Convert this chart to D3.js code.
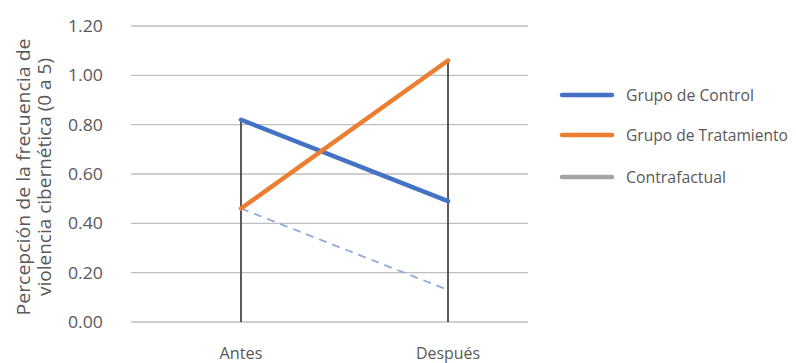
<!DOCTYPE html>
<html lang="es">
<head>
<meta charset="utf-8">
<script src="https://cdn.jsdelivr.net/npm/d3@7"></script>
<style>
  html, body { margin: 0; padding: 0; background: #fff; }
  svg { display: block; font-family: "Open Sans", "Liberation Sans", sans-serif; }
</style>
</head>
<body>
<svg id="chart" width="796" height="363"></svg>
<script>
// Categorías del eje X
const categories = ["Antes", "Después"];
// Series
const control = [0.82, 0.49];
const tratamiento = [0.46, 1.06];
const contrafactual = [0.46, 0.13];
// Marcas del eje Y
const yTicks = [0.00, 0.20, 0.40, 0.60, 0.80, 1.00, 1.20];
const legendLabels = ["Grupo de Control", "Grupo de Tratamiento", "Contrafactual"];
const titleLines = ["Percepción de la frecuencia de", "violencia cibernética (0 a 5)"];

const svg = d3.select("#chart");
const gridLeft = 131, gridRight = 528;
const textColor = "#595959";

// Anchos de texto fijos (px) para que la tipografía sustituta ocupe lo mismo
const legendWidths = [128, 162, 100];
const titleWidths = [277, 238];
const catWidths = [43, 64];

const x = d3.scalePoint().domain(categories).range([241, 448]);
const y = d3.scaleLinear().domain([0, 1.2]).range([322, 26]);

// Líneas de cuadrícula horizontales
svg.append("g").selectAll("line").data(yTicks).join("line")
  .attr("x1", gridLeft).attr("x2", gridRight)
  .attr("y1", d => y(d)).attr("y2", d => y(d))
  .attr("stroke", "#bfbfbf").attr("stroke-width", 1.3);

// Etiquetas del eje Y
svg.append("g").selectAll("text").data(yTicks).join("text")
  .attr("x", 103).attr("y", d => y(d))
  .attr("dy", "0.36em")
  .attr("text-anchor", "end")
  .attr("font-size", 17)
  .attr("textLength", 35).attr("lengthAdjust", "spacingAndGlyphs")
  .attr("fill", textColor)
  .text(d => d3.format(".2f")(d));

// Título del eje Y (dos líneas)
svg.append("g")
  .attr("transform", "translate(30,177) rotate(-90)")
  .selectAll("text").data(titleLines).join("text")
  .attr("x", 0).attr("y", (d, i) => i * 21)
  .attr("text-anchor", "middle")
  .attr("font-size", 17.5)
  .attr("textLength", (d, i) => titleWidths[i]).attr("lengthAdjust", "spacingAndGlyphs")
  .attr("fill", textColor)
  .text(d => d);

// Etiquetas del eje X
svg.append("g").selectAll("text").data(categories).join("text")
  .attr("x", d => x(d)).attr("y", 359)
  .attr("text-anchor", "middle")
  .attr("font-size", 16.5)
  .attr("textLength", (d, i) => catWidths[i]).attr("lengthAdjust", "spacingAndGlyphs")
  .attr("fill", textColor)
  .text(d => d);

// Líneas de caída desde el máximo de cada categoría hasta cero
const maxByCat = categories.map((c, i) => d3.max([control[i], tratamiento[i], contrafactual[i]]));
svg.append("g").selectAll("line").data(categories).join("line")
  .attr("x1", d => x(d)).attr("x2", d => x(d))
  .attr("y1", (d, i) => y(maxByCat[i])).attr("y2", y(0))
  .attr("stroke", "#595959").attr("stroke-width", 2);

const line = d3.line().x((d, i) => x(categories[i])).y(d => y(d));

// Contrafactual (discontinua)
svg.append("path").datum(contrafactual)
  .attr("d", line).attr("fill", "none")
  .attr("stroke", "#8faadc").attr("stroke-width", 1.8)
  .attr("stroke-dasharray", "8,6");

// Grupo de Control
svg.append("path").datum(control)
  .attr("d", line).attr("fill", "none")
  .attr("stroke", "#4472c4").attr("stroke-width", 4.5)
  .attr("stroke-linecap", "round");

// Grupo de Tratamiento
svg.append("path").datum(tratamiento)
  .attr("d", line).attr("fill", "none")
  .attr("stroke", "#ed7d31").attr("stroke-width", 4.5)
  .attr("stroke-linecap", "round");

// Leyenda
const legendColors = ["#4472c4", "#ed7d31", "#a5a5a5"];
const legendY = [95, 135, 177];
const lg = svg.append("g").selectAll("g").data(legendLabels).join("g")
  .attr("transform", (d, i) => `translate(0,${legendY[i]})`);
lg.append("line")
  .attr("x1", 562).attr("x2", 612)
  .attr("stroke", (d, i) => legendColors[i])
  .attr("stroke-width", 4.5).attr("stroke-linecap", "round");
lg.append("text")
  .attr("x", 626).attr("dy", "0.36em")
  .attr("font-size", 16).attr("fill", textColor)
  .attr("textLength", (d, i) => legendWidths[i]).attr("lengthAdjust", "spacingAndGlyphs")
  .text(d => d);
</script>
</body>
</html>
